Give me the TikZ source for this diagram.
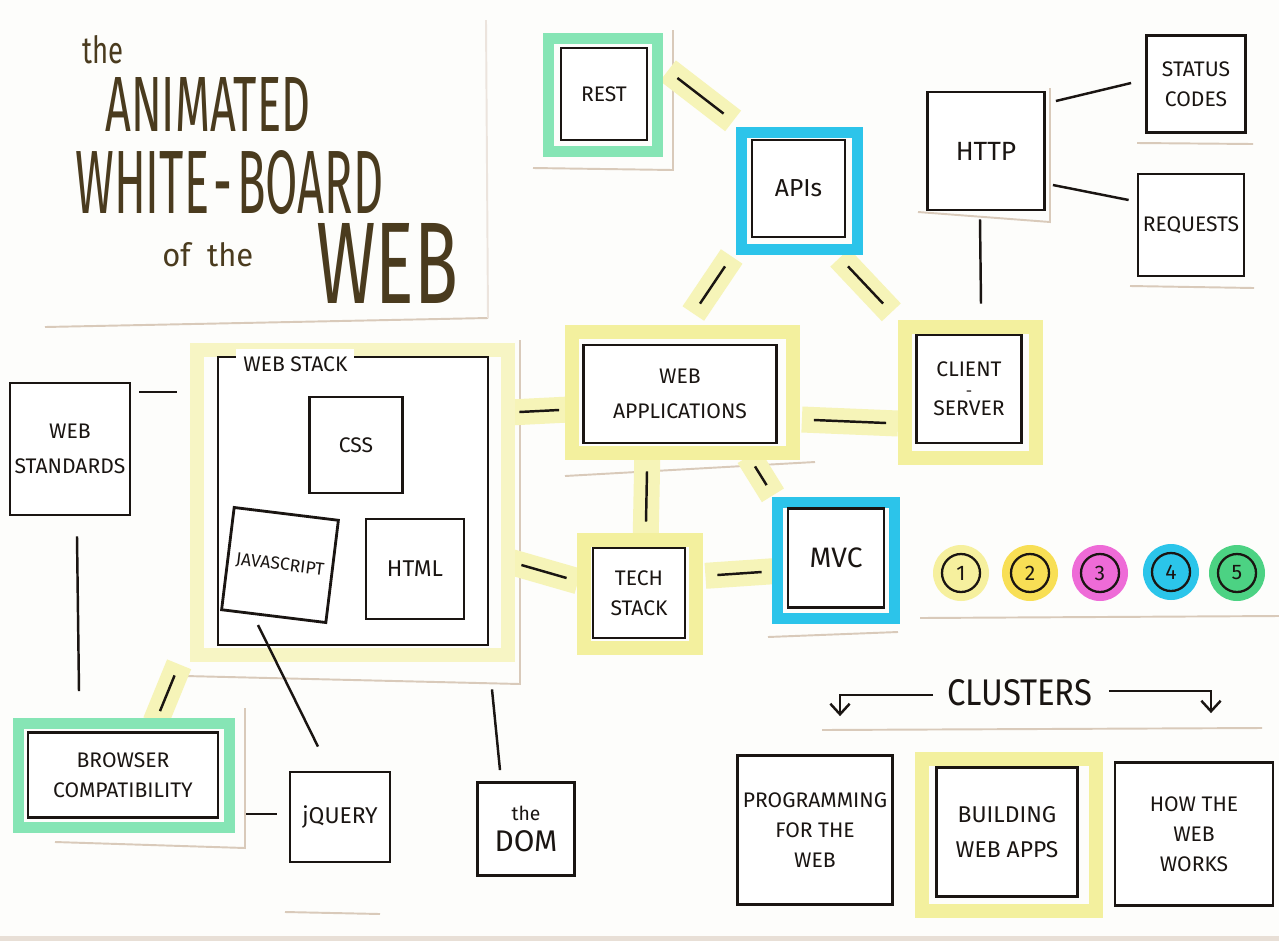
\documentclass[tikz,border=0pt]{standalone}
\usepackage{fontspec}
\setmainfont{Fira Sans}
\usepackage{graphicx}
\usetikzlibrary{arrows.meta}
\pgfdeclarelayer{bg}
\pgfsetlayers{bg,main}
\newlength\px
\setlength\px{0.02cm}
\definecolor{ink}{HTML}{1A1512}
\definecolor{titlec}{HTML}{4A3B1E}
\definecolor{bgc}{HTML}{FDFDFB}
\definecolor{bandc}{HTML}{F6F4B8}
\definecolor{yelc}{HTML}{F3F09E}
\definecolor{paleyel}{HTML}{F7F5C4}
\definecolor{greenc}{HTML}{86E5B5}
\definecolor{bluec}{HTML}{2CC4EA}
\definecolor{edgec}{HTML}{D9CABA}
\definecolor{lga}{HTML}{F6F09E}
\definecolor{lgb}{HTML}{F8DF55}
\definecolor{lgc}{HTML}{EE6BD7}
\definecolor{lgd}{HTML}{2BC5EA}
\definecolor{lge}{HTML}{4CD283}
\newcommand\bconn[2]{%
  \begin{pgfonlayer}{bg}\draw[band] #1 -- #2;\end{pgfonlayer}%
  \draw[conn] #1 -- #2;}
\begin{document}
\begin{tikzpicture}[x=0.02cm, y=-0.02cm,
  box/.style={draw=ink, line width=1.6pt, fill=white, align=center, inner sep=0pt, text=ink, font=\fontsize{12}{17}\selectfont},
  frm/.style 2 args={draw=#1, line width=#2\px, inner sep=0pt},
  conn/.style={draw=ink, line width=1.4pt},
  band/.style={draw=bandc, line width=26\px, shorten <=-12\px, shorten >=-12\px},
  paper/.style={draw=edgec, line width=1.1pt},
  ttl/.style={inner sep=0pt, text=titlec, anchor=base west},
  dot/.style={circle, draw=ink, line width=1.3pt, minimum size=38\px, inner sep=0pt, text=ink, font=\fontsize{12}{12}\selectfont},
  blob/.style={circle, fill=#1, minimum size=56\px, inner sep=0pt},
]
\useasboundingbox (0,0) rectangle (1279,941);
\begin{pgfonlayer}{bg}
\fill[bgc] (0,0) rectangle (1279,941);
\fill[edgec!60] (0,936) rectangle (1279,941);
% paper edges
\draw[paper] (45,327) -- (488,318);
\draw[paper, draw=edgec!50] (488,318) -- (486,20);
\draw[paper] (533,168) -- (673,170) -- (673,30);
\draw[paper] (918,212) -- (1050,222) -- (1050,88);
\draw[paper] (1137,143) -- (1253,144);
\draw[paper] (1130,286) -- (1254,288);
\draw[paper] (565,476) -- (815,462);
\draw[paper] (768,637) -- (898,632);
\draw[paper] (920,618) -- (1279,616);
\draw[paper] (822,730) -- (1262,728);
\draw[paper] (55,842) -- (245,848) -- (245,708);
\draw[paper] (185,676) -- (520,684) -- (520,340);
\draw[paper] (285,912) -- (380,914);
\end{pgfonlayer}

% title
\node[ttl] (t1) at (82,63) {\resizebox{41\px}{28\px}{the}};
\node[ttl] (t2) at (105,131) {\resizebox{205\px}{54\px}{ANIMATED}};
\node[ttl] (t3) at (75,213) {\resizebox{308\px}{63\px}{WHITE\kern1pt-\kern1pt BOARD}};
\node[ttl] (t4) at (162,266) {\resizebox{91\px}{24\px}{of\ \ the}};
\node[ttl] (t5) at (316,303) {\resizebox{142\px}{80\px}{WEB}};

% top cluster
\node[frm={greenc}{11}, minimum width=109\px, minimum height=113\px] (restF) at (603,95) {};
\node[box, minimum width=86\px, minimum height=92\px] (rest) at (604,94) {REST};
\node[frm={bluec}{11}, minimum width=116\px, minimum height=117\px] (apisF) at (799.5,191) {};
\node[box, minimum width=93\px, minimum height=97\px, font=\fontsize{14}{17}\selectfont] (apis) at (798.5,188.5) {APIs};
\node[box, minimum width=117\px, minimum height=118\px, font=\fontsize{15}{17}\selectfont] (http) at (986,151) {HTTP};
\node[box, minimum width=99\px, minimum height=97\px] (status) at (1196,84) {STATUS\\CODES};
\node[box, minimum width=106\px, minimum height=102\px] (requests) at (1191,225) {REQUESTS};
\node[frm={yelc}{14}, minimum width=131\px, minimum height=131\px] (clientF) at (970,392) {};
\node[box, minimum width=105\px, minimum height=108\px, font=\fontsize{12}{14}\selectfont] (client) at (969,389) {CLIENT\\[-3pt]{\fontsize{9}{9}\selectfont -}\\[-3pt]SERVER};
\node[frm={yelc}{14}, minimum width=221\px, minimum height=121\px] (webappsF) at (682,392) {};
\node[box, minimum width=193\px, minimum height=98\px, font=\fontsize{12}{20}\selectfont] (webapps) at (680,394) {WEB\\APPLICATIONS};
\node[frm={yelc}{14}, minimum width=112\px, minimum height=108\px] (techF) at (640,594) {};
\node[box, minimum width=92\px, minimum height=90\px] (tech) at (639,593) {TECH\\STACK};
\node[frm={bluec}{11}, minimum width=117\px, minimum height=116\px] (mvcF) at (836,560) {};
\node[box, minimum width=96\px, minimum height=99\px, font=\fontsize{16}{17}\selectfont] (mvc) at (836,558) {MVC};

% web stack
\node[frm={paleyel}{14}, minimum width=311\px, minimum height=305\px] (webstackF) at (352.5,502.5) {};
\node[box, minimum width=270\px, minimum height=288\px] (webstack) at (353,501) {};
\node[fill=white, inner sep=4pt, text=ink, font=\fontsize{12}{12}\selectfont, anchor=west] (wslabel) at (236,364) {WEB STACK};
\node[box, minimum width=93\px, minimum height=96\px] (css) at (356,445) {CSS};
\node[box, minimum width=105\px, minimum height=103\px, rotate=-7, font=\fontsize{10}{12}\selectfont] (js) at (280,565) {JAVASCRIPT};
\node[box, minimum width=98\px, minimum height=100\px, font=\fontsize{13}{17}\selectfont] (html) at (415,569) {HTML};

% left & bottom
\node[box, minimum width=120\px, minimum height=132\px] (standards) at (70,449) {WEB\\[3pt]STANDARDS};
\node[frm={greenc}{11}, minimum width=211\px, minimum height=104\px] (browserF) at (124,775.5) {};
\node[box, minimum width=190\px, minimum height=85\px] (browser) at (123,775) {BROWSER\\COMPATIBILITY};
\node[box, minimum width=100\px, minimum height=90\px, font=\fontsize{13}{17}\selectfont] (jquery) at (340,817) {jQUERY};
\node[box, minimum width=97\px, minimum height=93\px] (dom) at (526,829) {{\fontsize{11}{11}\selectfont the}\\[1pt]{\fontsize{17}{17}\selectfont DOM}};

% legend
\node[blob=lga] (ba) at (961,573) {};
\node[blob=lgb] (bb) at (1030,573) {};
\node[blob=lgc] (bc) at (1100,573) {};
\node[blob=lgd] (bd) at (1171,572) {};
\node[blob=lge] (be) at (1237,573) {};
\node[dot] (la) at (ba) {1};
\node[dot] (lb) at (bb) {2};
\node[dot] (lc) at (bc) {3};
\node[dot] (ld) at (bd) {4};
\node[dot] (le) at (be) {5};

% clusters
\node[inner sep=0pt, text=ink] (clusters) at (1020,693) {\resizebox{145\px}{26\px}{CLUSTERS}};
\node[box, minimum width=155\px, minimum height=149\px] (prog) at (815,830) {PROGRAMMING\\FOR THE\\WEB};
\node[frm={yelc}{14}, minimum width=174\px, minimum height=152\px] (buildF) at (1009,835) {};
\node[box, minimum width=141\px, minimum height=129\px, font=\fontsize{13}{20}\selectfont] (build) at (1007,832) {BUILDING\\WEB APPS};
\node[box, minimum width=158\px, minimum height=143\px] (how) at (1194,834) {HOW THE\\WEB\\WORKS};
\draw[conn, -{Straight Barb[length=6pt,width=11pt]}] ([shift={(-14,2)}]clusters.west) -| ([shift={(25,-38)}]prog.north);
\draw[conn, -{Straight Barb[length=6pt,width=11pt]}] ([shift={(16,-2)}]clusters.east) -| ([shift={(17,-48)}]how.north);

% connectors with highlight bands
\bconn{([shift={(29,-16)}]rest.east)}{([shift={(-27,-25)}]apis.north west)}
\bconn{([shift={(-73.5,28)}]apis.south)}{([shift={(20,-40)}]webapps.north)}
\bconn{([shift={(49.5,28)}]apis.south)}{([shift={(-32,-30)}]client.north west)}
\bconn{([shift={(36,26)}]webapps.east)}{([shift={(-29,34)}]client.west)}
\bconn{([shift={(30,-89)}]webstack.east)}{([shift={(-23,16)}]webapps.west)}
\bconn{([shift={(-33,27)}]webapps.south)}{([shift={(7,-25)}]tech.north)}
\bconn{([shift={(75,22)}]webapps.south)}{([shift={(-20,-22)}]mvc.north west)}
\bconn{([shift={(31,-18)}]tech.east)}{([shift={(-25,14)}]mvc.west)}
\bconn{([shift={(32,64)}]webstack.east)}{([shift={(-25,-15)}]tech.west)}
\bconn{([shift={(-42,29)}]webstack.south west)}{([shift={(37,-20)}]browser.north)}

% plain connectors
\draw[conn] ([shift={(10,-50)}]http.east) -- ([shift={(-14,-1)}]status.west);
\draw[conn] ([shift={(7,34)}]http.east) -- ([shift={(-8,-25)}]requests.west);
\draw[conn] ([shift={(-6,8)}]http.south) -- ([shift={(12,-30)}]client.north);
\draw[conn] ([shift={(8,-57)}]standards.east) -- ([shift={(-40,-109)}]webstack.west);
\draw[conn] ([shift={(7,20)}]standards.south) -- ([shift={(-44,-40)}]browser.north);
\draw[conn] ([shift={(-22,60)}]js.center) -- ([shift={(-22,-24)}]jquery.north);
\draw[conn] ([shift={(139,43)}]webstack.south) -- ([shift={(-26,-11)}]dom.north);
\draw[conn] ([shift={(27,39)}]browser.east) -- ([shift={(-12,-3)}]jquery.west);
\end{tikzpicture}
\end{document}
